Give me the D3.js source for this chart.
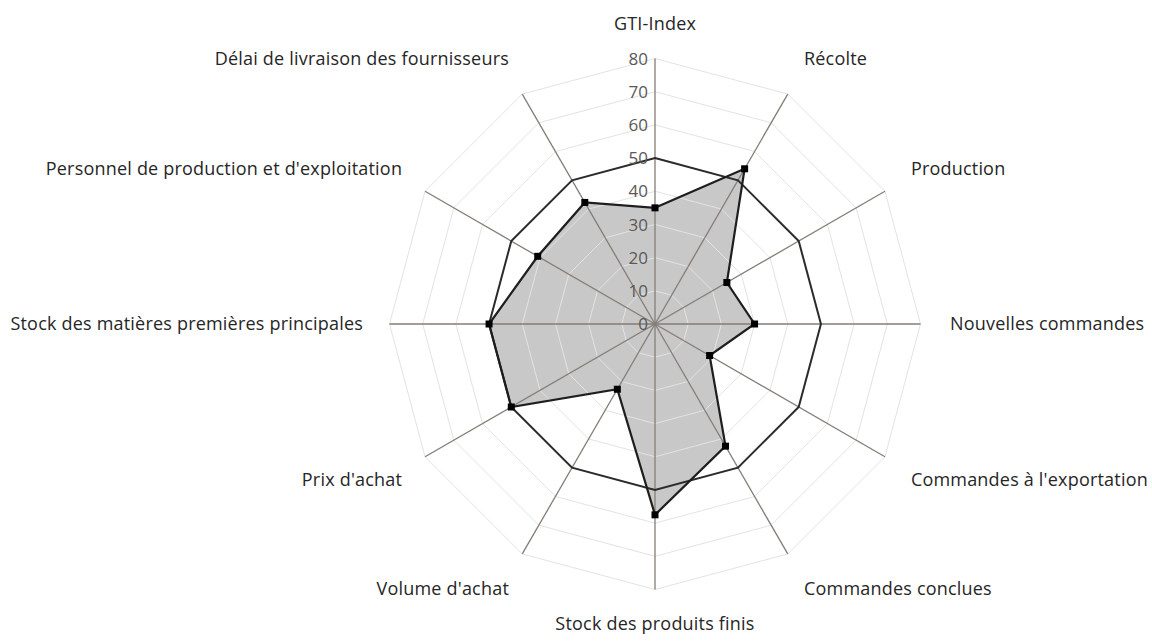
<!DOCTYPE html>
<html>
<head>
<meta charset="utf-8">
<script src="https://cdn.jsdelivr.net/npm/d3@7"></script>
<style>
  html, body { margin: 0; padding: 0; background: #fff; }
  #chart { width: 1152px; height: 643px; }
  text { font-family: "Open Sans", "Noto Sans", sans-serif; }
</style>
</head>
<body>
<div id="chart"></div>
<script>
//Données
const categories = ['GTI-Index', 'Récolte', 'Production', 'Nouvelles commandes',
    "Commandes à l'exportation", 'Commandes conclues', 'Stock des produits finis',
    "Volume d'achat", "Prix d'achat", 'Stock des matières premières principales',
    "Personnel de production et d'exploitation", 'Délai de livraison des fournisseurs'];
const values = [35, 54, 25, 30, 19, 42.5, 57.5, 22.7, 50, 50, 40.8, 42.3];
const threshold = [50, 50, 50, 50, 50, 50, 50, 50, 50, 50, 50, 50];
const ticks = [0, 10, 20, 30, 40, 50, 60, 70, 80];

//Dimensions
let width = 1152, height = 643,
    cx = 655, cy = 324, radius = 265.5;

let svg = d3.select('#chart')
    .append('svg')
        .attr('width', width)
        .attr('height', height);

let g = svg.append('g')
    .attr('transform', 'translate(' + cx + ',' + cy + ')');

let r = d3.scaleLinear()
    .domain([0, 80])
    .range([0, radius]);

//Angle de chaque axe (pas = 2PI/n, sens horaire depuis le haut)
let angle = d3.scalePoint()
    .domain(categories)
    .range([0, 2 * Math.PI * (categories.length - 1) / categories.length]);

function px(cat, v) { return r(v) * Math.sin(angle(cat)); }
function py(cat, v) { return -r(v) * Math.cos(angle(cat)); }

let radar = d3.lineRadial()
    .angle(function(d) { return angle(d.cat); })
    .radius(function(d) { return r(d.v); })
    .curve(d3.curveLinearClosed);

let dataPts = categories.map(function(c, i) { return {cat: c, v: values[i]}; });
let thrPts = categories.map(function(c, i) { return {cat: c, v: threshold[i]}; });

//Surface de la série
g.append('path')
    .datum(dataPts)
    .attr('d', radar)
    .attr('fill', '#c8c8c8');

//Grille
g.append('g')
    .selectAll('path')
    .data(ticks.slice(1))
    .enter()
    .append('path')
    .attr('d', function(t) { return radar(categories.map(function(c) { return {cat: c, v: t}; })); })
    .attr('fill', 'none')
    .attr('stroke', '#e3e3e3')
    .attr('stroke-width', 1);

//Axes
g.append('g')
    .selectAll('line')
    .data(categories)
    .enter()
    .append('line')
    .attr('x1', 0).attr('y1', 0)
    .attr('x2', function(c) { return px(c, 80); })
    .attr('y2', function(c) { return py(c, 80); })
    .attr('stroke', '#857d77')
    .attr('stroke-width', 1.3);

//Seuil 50
g.append('path')
    .datum(thrPts)
    .attr('d', radar)
    .attr('fill', 'none')
    .attr('stroke', '#2b2b2b')
    .attr('stroke-width', 2);

//Contour de la série
g.append('path')
    .datum(dataPts)
    .attr('d', radar)
    .attr('fill', 'none')
    .attr('stroke', '#1e1e1e')
    .attr('stroke-width', 2.2);

g.append('g')
    .selectAll('rect')
    .data(dataPts)
    .enter()
    .append('rect')
    .attr('x', function(d) { return px(d.cat, d.v) - 3.5; })
    .attr('y', function(d) { return py(d.cat, d.v) - 3.5; })
    .attr('width', 7)
    .attr('height', 7)
    .attr('fill', '#000');

//Graduations
g.append('g')
    .selectAll('text')
    .data(ticks)
    .enter()
    .append('text')
    .attr('x', -7)
    .attr('y', function(t) { return -r(t); })
    .attr('dy', '0.36em')
    .attr('text-anchor', 'end')
    .attr('font-size', 17)
    .attr('fill', '#595959')
    .text(function(t) { return t; });

//Libellés des catégories
g.append('g')
    .selectAll('text')
    .data(categories)
    .enter()
    .append('text')
    .attr('x', function(c) {
        let s = Math.sin(angle(c));
        return 292 * s + (s > 0.01 ? 3 : 0);
    })
    .attr('y', function(c) {
        let co = Math.cos(angle(c));
        if (Math.abs(Math.sin(angle(c))) < 0.01) return -300 * co;
        if (Math.abs(co) < 0.01) return 0;
        return -290 * co - Math.sign(co) * (6 + 9 * Math.abs(co));
    })
    .attr('dy', '0.35em')
    .attr('text-anchor', function(c) {
        let s = Math.sin(angle(c));
        return s > 0.01 ? 'start' : (s < -0.01 ? 'end' : 'middle');
    })
    .attr('font-size', 18)
    .attr('letter-spacing', 0.2)
    .attr('fill', '#262626')
    .text(function(c) { return c; });
</script>
</body>
</html>
